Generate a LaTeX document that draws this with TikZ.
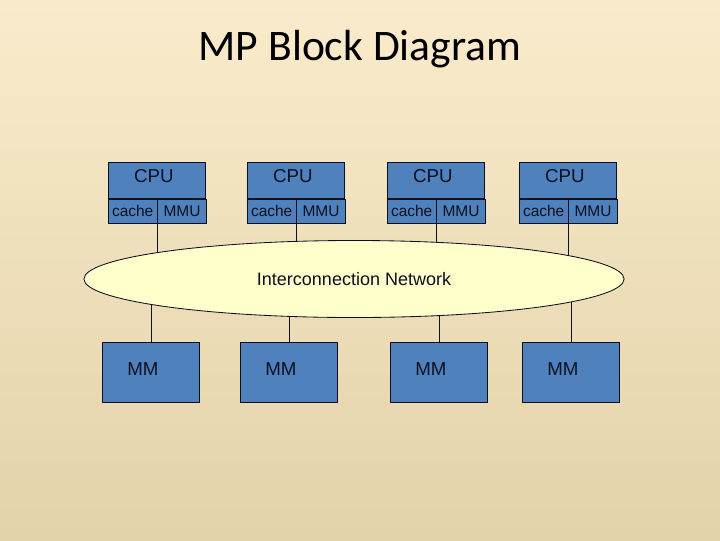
\documentclass[tikz,border=0pt]{standalone}
\usepackage{fontspec}
\setmainfont{Liberation Sans}
\newfontfamily\titlefont{Carlito}
\usepackage{tikz}
\usetikzlibrary{%
	calc,%
	positioning,%
	shapes.geometric
}

\definecolor{bgtop}{RGB}{250,235,204}
\definecolor{bgmid}{RGB}{243,240,225}
\definecolor{bgbot}{RGB}{226,211,170}
\definecolor{boxblue}{RGB}{79,129,189}
\definecolor{netyellow}{RGB}{255,255,204}
\definecolor{inkcol}{RGB}{12,16,32}

\tikzset{
	cpubox/.style={draw=inkcol, fill=boxblue, line width=0.6pt, inner sep=0pt,
		minimum width=2.425cm, minimum height=0.9cm, anchor=north west},
	subbox/.style={draw=inkcol, fill=boxblue, line width=0.6pt, inner sep=0pt,
		minimum width=1.2125cm, minimum height=0.6cm, anchor=north west,
		font=\fontsize{11}{12}\selectfont, text=inkcol},
	mmbox/.style={draw=inkcol, fill=boxblue, line width=0.6pt, inner sep=0pt,
		minimum width=2.425cm, minimum height=1.5cm, anchor=north west},
	boxtext/.style={font=\fontsize{13.3}{15}\selectfont, text=inkcol},
	link/.style={draw=inkcol, line width=0.6pt}
}

\begin{document}
\begin{tikzpicture}[x=0.025cm, y=-0.025cm]
	% Background
	\useasboundingbox (0,0) rectangle (720,540);
	\shade[top color=bgtop, middle color=bgmid, bottom color=bgbot] (0,0) rectangle (720,540);

	% Title
	\node[font=\titlefont\fontsize{31}{34}\selectfont, text=black] (title) at (360,49) {MP Block Diagram};

	% Centre of the network
	\coordinate (netc) at (354,279);

	% Processors
	\foreach \i/\xl in {1/108,2/247,3/387,4/519}{
		\node[cpubox, label={[shift={(-3,-4)}, boxtext]center:CPU}] (cpu\i) at (\xl,162) {};
		\node[subbox] (cache\i) at (cpu\i.south west) {cache};
		\node[subbox] (mmu\i) at (cache\i.north east) {MMU};
		\draw[link] (cache\i.south east) -- (cache\i.south east |- netc);
	}

	% Memories
	\foreach \i/\xl in {1/102,2/240,3/390,4/522}{
		\node[mmbox, label={[shift={(-8,-3)}, boxtext]center:MM}] (mm\i) at (\xl,342) {};
		\draw[link] (mm\i.north) -- (mm\i.north |- netc);
	}

	% Network
	\node[draw=inkcol, fill=netyellow, line width=0.6pt, ellipse, inner sep=0pt,
		minimum width=13.5cm, minimum height=1.925cm,
		font=\fontsize{12.8}{15}\selectfont, text=inkcol] (net) at (netc) {Interconnection Network};
\end{tikzpicture}
\end{document}
